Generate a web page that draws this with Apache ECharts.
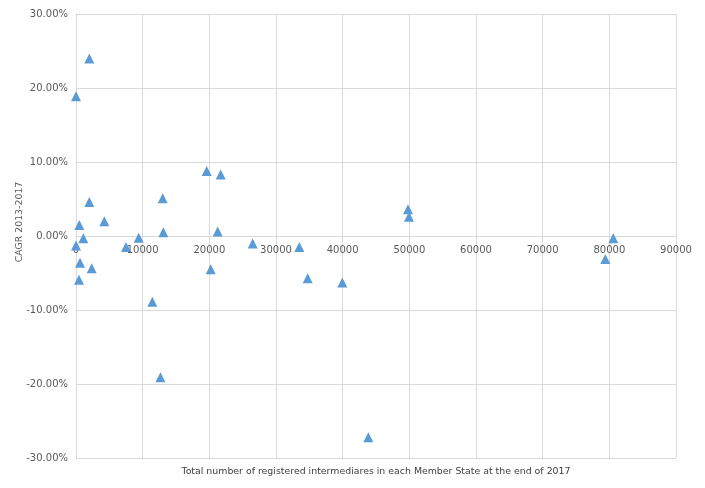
<!DOCTYPE html>
<html>
<head>
<meta charset="utf-8">
<script src="https://cdn.jsdelivr.net/npm/echarts@6/dist/echarts.min.js"></script>
<style>html,body{margin:0;padding:0;background:#fff}#c{width:705px;height:488px}</style>
</head>
<body>
<div id="c"></div>
<script>
// Total registered intermediaries (end 2017)
var intermediaries = [0, 2000, 2000, 500, 1100, 4250, 0, 7500, 9400, 13000, 13100, 21250, 19600, 21700, 600, 450, 2350, 11450, 12670, 20200, 26500, 33500, 34750, 39950, 49800, 49950, 43850, 80600, 79400];
// CAGR 2013-2017 in percent
var cagr = [18.9, 24.0, 4.6, 1.5, -0.3, 2.0, -1.3, -1.5, -0.25, 5.1, 0.5, 0.6, 8.8, 8.3, -3.6, -5.9, -4.35, -8.9, -19.1, -4.5, -1.0, -1.5, -5.7, -6.3, 3.6, 2.6, -27.2, -0.3, -3.1];
var xTitle = 'Total number of registered intermediares in each Member State at the end of 2017';
var yTitle = 'CAGR 2013-2017';

var points = intermediaries.map(function (x, i) { return [x, cagr[i]]; });

var chart = echarts.init(document.getElementById('c'));
var font = 'DejaVu Sans';
chart.setOption({
  animation: false,
  grid: { left: 76, right: 29, top: 14, bottom: 30, containLabel: false, outerBoundsMode: 'none' },
  xAxis: {
    type: 'value', min: 0, max: 90000, interval: 10000,
    offset: -222,
    name: xTitle, nameLocation: 'middle', nameGap: 231, nameMoveOverlap: false,
    nameTextStyle: { fontFamily: font, fontSize: 9.4, color: '#404040' },
    axisLine: { show: true, onZero: false, lineStyle: { color: '#d9d9d9' } },
    axisTick: { show: false },
    axisLabel: { fontFamily: font, fontSize: 10, color: '#595959', margin: 9,
      formatter: function (v) { return String(v); } },
    splitLine: { show: true, lineStyle: { color: '#d9d9d9' } }
  },
  yAxis: {
    type: 'value', min: -30, max: 30, interval: 10,
    name: yTitle, nameLocation: 'middle', nameGap: 52, nameMoveOverlap: false,
    nameTextStyle: { fontFamily: font, fontSize: 9.4, color: '#595959', padding: [0, 0, 0, 28] },
    axisLine: { show: true, onZero: false, lineStyle: { color: '#d9d9d9' } },
    axisTick: { show: false },
    axisLabel: { fontFamily: font, fontSize: 10, color: '#595959', margin: 8,
      formatter: function (v) { return v.toFixed(2) + '%'; } },
    splitLine: { show: true, lineStyle: { color: '#d9d9d9' } }
  },
  series: [{
    type: 'scatter',
    symbol: 'triangle',
    symbolSize: [10, 10],
    itemStyle: { color: '#5B9BD5', opacity: 1 },
    data: points
  }]
});
</script>
</body>
</html>
